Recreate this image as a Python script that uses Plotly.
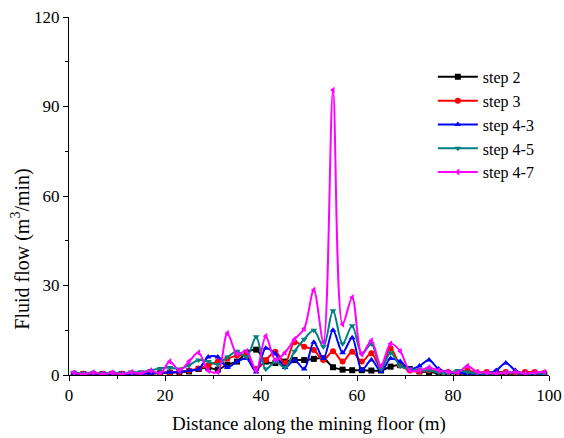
import plotly.graph_objects as go

distance = list(range(1, 100, 2))

step2 = [0.3, 0.3, 0.3, 0.3, 0.3, 0.3, 0.4, 0.4, 0.5, 0.6,
         0.8, 1.0, 1.2, 2.0, 2.5, 1.8, 3.5, 4.5, 7.5, 8.5,
         4.5, 4.0, 4.5, 5.0, 5.0, 5.4, 5.6, 2.6, 1.8, 1.6,
         1.6, 1.5, 1.5, 2.8, 3.3, 2.0, 1.2, 1.0, 0.6, 0.5,
         0.5, 0.4, 0.4, 0.4, 0.4, 0.4, 0.4, 0.4, 0.4, 0.4]

step3 = [0.5, 0.4, 0.5, 0.4, 0.5, 0.4, 0.5, 0.5, 0.6, 0.7,
         0.8, 1.0, 1.5, 2.2, 3.3, 4.5, 5.5, 6.5, 6.5, 2.0,
         5.0, 7.8, 3.9, 11.0, 9.5, 8.4, 5.0, 8.0, 4.5, 7.8,
         4.5, 7.3, 2.2, 8.9, 3.3, 1.5, 1.2, 1.5, 1.5, 1.0,
         1.0, 1.5, 0.8, 1.0, 1.0, 1.0, 0.5, 1.0, 1.0, 0.7]

step4_3 = [0.6, 0.4, 0.6, 0.4, 0.6, 0.4, 0.5, 0.5, 0.6, 0.8,
           0.9, 1.0, 1.5, 2.0, 6.0, 6.0, 2.5, 4.5, 5.5, 1.0,
           9.0, 7.0, 2.5, 5.0, 2.0, 11.0, 5.5, 15.0, 7.5, 12.5,
           1.7, 5.0, 1.2, 5.5, 4.5, 2.0, 3.0, 5.0, 2.0, 1.0,
           0.8, 0.5, 0.6, 0.5, 1.5, 4.0, 1.5, 0.5, 0.5, 0.5]

step4_5 = [0.8, 0.5, 0.8, 0.5, 0.8, 0.6, 0.9, 1.0, 1.5, 2.2,
           2.5, 2.0, 3.3, 5.0, 4.5, 3.5, 6.0, 8.0, 6.0, 12.8,
           2.0, 4.5, 2.5, 8.0, 12.0, 15.0, 9.5, 21.5, 10.5, 16.5,
           7.0, 10.5, 2.0, 7.5, 3.0, 2.0, 1.5, 1.5, 0.8, 0.5,
           1.5, 1.0, 0.5, 0.5, 0.5, 0.8, 0.8, 0.5, 0.5, 0.5]

step4_7 = [0.8, 0.3, 0.8, 0.3, 0.8, 0.3, 0.9, 0.5, 1.5, 0.5,
           4.5, 1.5, 4.5, 7.5, 1.5, 1.0, 14.0, 7.0, 8.0, 1.5,
           13.0, 5.0, 7.5, 12.0, 15.5, 28.5, 11.0, 95.5, 17.0, 26.0,
           7.0, 11.5, 3.0, 10.5, 8.0, 1.5, 1.5, 2.5, 1.5, 1.0,
           0.8, 3.0, 1.0, 0.8, 0.5, 0.8, 1.0, 0.5, 0.8, 1.0]

series = [
    ("step 2", step2, "#000000", "square"),
    ("step 3", step3, "#FF0000", "circle"),
    ("step 4-3", step4_3, "#0000FF", "triangle-up"),
    ("step 4-5", step4_5, "#008080", "triangle-down"),
    ("step 4-7", step4_7, "#FF00FF", "triangle-left"),
]

fig = go.Figure()
for name, vals, color, sym in series:
    fig.add_trace(go.Scatter(
        x=distance, y=vals, name=name, mode="lines+markers",
        line=dict(color=color, width=2, shape="spline", smoothing=0.9),
        marker=dict(symbol=sym, size=6, color=color),
    ))

FF = "Times New Roman"
fig.update_layout(
    width=564, height=438,
    margin=dict(l=69, r=15, t=17, b=63),
    paper_bgcolor="white", plot_bgcolor="white",
    font=dict(family=FF, size=17, color="black"),
    showlegend=True,
    legend=dict(x=0.758, y=0.88, xanchor="left", yanchor="top",
                bgcolor="rgba(0,0,0,0)", font=dict(size=16, family=FF),
                tracegroupgap=0, itemsizing="trace", itemwidth=40),
    annotations=[dict(
        text="Fluid flow (m<sup>3</sup>/min)", textangle=-90,
        xref="paper", yref="paper", x=-0.1, y=0.35,
        xanchor="center", yanchor="middle", showarrow=False,
        font=dict(family=FF, size=20, color="black"),
    )],
)
fig.update_xaxes(
    range=[0, 100], dtick=20, tick0=0, automargin=False,
    showline=True, linecolor="black", linewidth=1, mirror=False,
    ticks="outside", ticklen=5, tickcolor="black", showgrid=False, zeroline=False,
    minor=dict(dtick=10, ticks="outside", ticklen=3, tickcolor="black", showgrid=False),
    title=dict(text="Distance along the mining floor (m)", font=dict(size=19, family=FF), standoff=12),
    tickfont=dict(size=17, family=FF),
)
fig.update_yaxes(
    range=[0, 120], dtick=30, tick0=0, automargin=False,
    showline=True, linecolor="black", linewidth=1, mirror=False,
    ticks="outside", ticklen=5, tickcolor="black", showgrid=False, zeroline=False,
    minor=dict(dtick=15, ticks="outside", ticklen=3, tickcolor="black", showgrid=False),
    tickfont=dict(size=17, family=FF),
)

fig.write_html("out.html")
